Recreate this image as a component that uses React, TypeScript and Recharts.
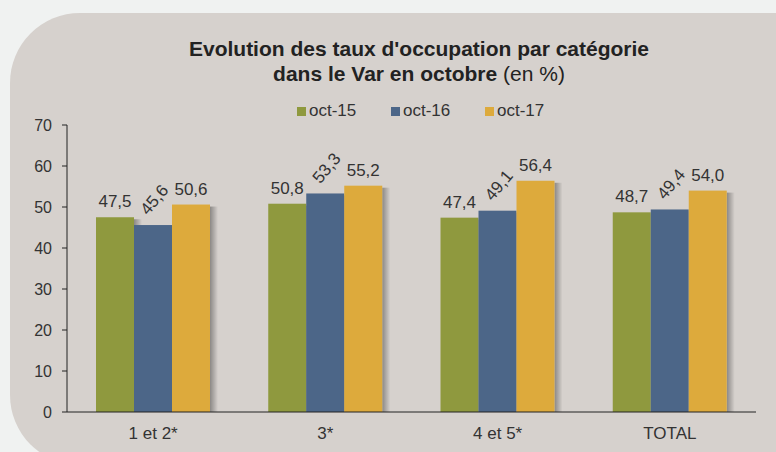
import { BarChart, Bar, XAxis, YAxis, LabelList } from "recharts";

// ── Data ──────────────────────────────────────────────────

const categories = ["1 et 2*", "3*", "4 et 5*", "TOTAL"];
const seriesNames = ["oct-15", "oct-16", "oct-17"];
const oct15 = [47.5, 50.8, 47.4, 48.7];
const oct16 = [45.6, 53.3, 49.1, 49.4];
const oct17 = [50.6, 55.2, 56.4, 54.0];
const yTicks = [0, 10, 20, 30, 40, 50, 60, 70];
const boundaryTicks = [0, 1, 2, 3, 4];

const COLORS = ["#8f993e", "#4c6688", "#ddaa3c"];
const TEXT = "#333333";
const FONT = "'Liberation Sans', Arial, sans-serif";

const chartData = categories.map((cat, i) => ({
  cat,
  idx: i + 0.5,
  s0: oct15[i],
  s1: oct16[i],
  s2: oct17[i],
}));

// ── Helpers ───────────────────────────────────────────────

const fmt = (v: number) => v.toFixed(1).replace(".", ",");

const ShadowBar = (props: any) => {
  const { x, y, width, height, fill } = props;
  if (!height || height <= 0) return null;
  return (
    <g>
      <defs>
        <linearGradient id="barShadow" x1="0" y1="0" x2="1" y2="0">
          <stop offset="0%" stopColor="#000" stopOpacity={0.35} />
          <stop offset="100%" stopColor="#000" stopOpacity={0} />
        </linearGradient>
      </defs>
      <rect x={x + width} y={y + 2} width={8} height={height - 2} fill="url(#barShadow)" />
      <rect x={x} y={y} width={width} height={height} fill={fill} />
    </g>
  );
};

const flatLabel = (props: any) => {
  const { x, y, width, value } = props;
  return (
    <text
      x={x + width / 2}
      y={y - 10}
      textAnchor="middle"
      fontSize={17}
      fontFamily={FONT}
      fill={TEXT}
    >
      {fmt(value)}
    </text>
  );
};

const tiltedLabel = (props: any) => {
  const { x, y, width, value } = props;
  const lx = x + width / 2 - 5;
  const ly = y - 9;
  return (
    <text
      x={lx}
      y={ly}
      textAnchor="start"
      fontSize={17}
      fontFamily={FONT}
      fill={TEXT}
      transform={`rotate(-50 ${lx} ${ly})`}
    >
      {fmt(value)}
    </text>
  );
};

const YTick = (props: any) => {
  const { y, payload } = props;
  return (
    <text x={52} y={y} dy={6} textAnchor="end" fontSize={16} fontFamily={FONT} fill={TEXT}>
      {payload.value}
    </text>
  );
};

const XTick = (props: any) => {
  const { x, y, payload } = props;
  return (
    <text x={x} y={y} dy={25} textAnchor="middle" fontSize={17} fontFamily={FONT} fill={TEXT}>
      {payload.value}
    </text>
  );
};

const EmptyTick = () => <g />;

// ── Component ─────────────────────────────────────────────

export default function App() {
  return (
    <div
      style={{
        position: "absolute",
        top: 0,
        left: 0,
        width: 776,
        height: 452,
        overflow: "hidden",
        background: "#f0f2f1",
        fontFamily: FONT,
      }}
    >
      <div
        style={{
          position: "absolute",
          left: 10,
          top: 13,
          width: 800,
          height: 452,
          background: "#d6d1cd",
          borderRadius: "70px 0 0 70px",
        }}
      />

      <div
        style={{
          position: "absolute",
          left: 119,
          top: 36,
          width: 600,
          textAlign: "center",
          fontSize: 21,
          lineHeight: "25px",
          color: "#222",
        }}
      >
        <div style={{ fontWeight: "bold" }}>Evolution des taux d'occupation par catégorie</div>
        <div>
          <span style={{ fontWeight: "bold" }}>dans le Var en octobre</span> (en %)
        </div>
      </div>

      <div
        style={{
          position: "absolute",
          left: 297,
          top: 101,
          display: "flex",
          fontSize: 17,
          lineHeight: "20px",
          color: TEXT,
        }}
      >
        {seriesNames.map((name, i) => (
          <div key={name} style={{ width: 94, display: "flex", alignItems: "center" }}>
            <span
              style={{
                display: "inline-block",
                width: 9,
                height: 9,
                background: COLORS[i],
                marginRight: 3,
              }}
            />
            <span>{name}</span>
          </div>
        ))}
      </div>

      <div style={{ position: "absolute", left: 0, top: 0 }}>
        <BarChart
          width={776}
          height={452}
          data={chartData}
          margin={{ top: 125, right: 20, bottom: 0, left: 0 }}
          barGap={0}
          barSize={38}
        >
          <XAxis
            xAxisId="edges"
            dataKey="idx"
            type="number"
            domain={[0, 4]}
            ticks={boundaryTicks}
            height={0}
            axisLine={false}
            tickLine={{ stroke: "#222" }}
            tickSize={5}
            tick={EmptyTick}
          />
          <XAxis
            xAxisId="cat"
            dataKey="cat"
            height={40}
            axisLine={{ stroke: "#222" }}
            tickLine={false}
            tickSize={0}
            tick={XTick}
            interval={0}
          />
          <YAxis
            domain={[0, 70]}
            ticks={yTicks}
            width={67}
            axisLine={{ stroke: "#222" }}
            tickLine={{ stroke: "#222" }}
            tickSize={5}
            tick={YTick}
            interval={0}
          />
          <Bar xAxisId="cat" dataKey="s0" name={seriesNames[0]} fill={COLORS[0]} shape={ShadowBar} isAnimationActive={false}>
            <LabelList dataKey="s0" content={flatLabel} />
          </Bar>
          <Bar xAxisId="cat" dataKey="s1" name={seriesNames[1]} fill={COLORS[1]} shape={ShadowBar} isAnimationActive={false}>
            <LabelList dataKey="s1" content={tiltedLabel} />
          </Bar>
          <Bar xAxisId="cat" dataKey="s2" name={seriesNames[2]} fill={COLORS[2]} shape={ShadowBar} isAnimationActive={false}>
            <LabelList dataKey="s2" content={flatLabel} />
          </Bar>
        </BarChart>
      </div>
    </div>
  );
}
